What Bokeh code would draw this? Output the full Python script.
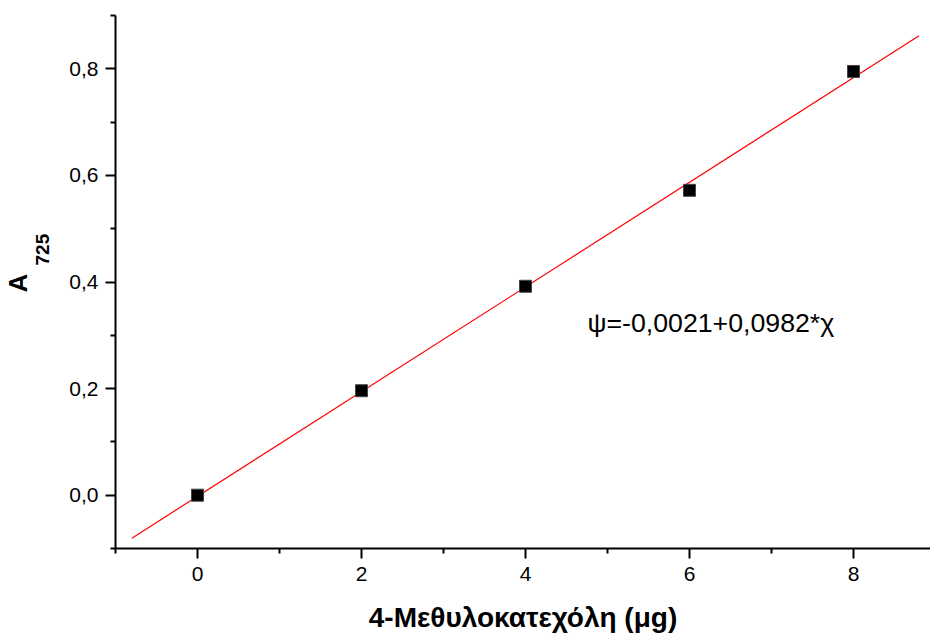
from bokeh.plotting import figure
from bokeh.models import Range1d, FixedTicker, CustomJSTickFormatter, Label, Title
from bokeh.embed import file_html
from bokeh.resources import INLINE

# data
amount_ug = [0, 2, 4, 6, 8]
absorbance = [0.0, 0.196, 0.392, 0.572, 0.795]
fit_intercept = -0.0021
fit_slope = 0.0982
fit_x = [-0.8, 8.8]
fit_y = [fit_intercept + fit_slope * v for v in fit_x]
x_ticks = [0, 2, 4, 6, 8]
x_minor = [-1, 1, 3, 5, 7]
y_ticks = [0.0, 0.2, 0.4, 0.6, 0.8]
y_minor = [-0.1, 0.1, 0.3, 0.5, 0.7, 0.9]
equation = "ψ=-0,0021+0,0982*χ"
x_title = "4-Μεθυλοκατεχόλη (μg)"
y_title_main = "A"
y_title_sub = "725"

FONT = "Liberation Sans"

p = figure(width=930, height=636, output_backend="svg", toolbar_location=None,
           x_range=Range1d(-1, 8.939), y_range=Range1d(-0.1, 0.9),
           min_border_left=115, min_border_right=0, min_border_top=15, min_border_bottom=88)
p.outline_line_color = None
p.xgrid.grid_line_color = None
p.ygrid.grid_line_color = None
p.background_fill_color = "white"
p.border_fill_color = "white"

p.line(fit_x, fit_y, line_color="red", line_width=1.2)
p.scatter(amount_ug, absorbance, marker="square", size=12, fill_color="black",
          line_color="#444444", line_width=1)

for ax in (p.xaxis[0], p.yaxis[0]):
    ax.axis_line_width = 2
    ax.major_tick_line_width = 2
    ax.minor_tick_line_width = 2
    ax.major_tick_in = 0
    ax.major_tick_out = 10
    ax.minor_tick_in = 0
    ax.minor_tick_out = 5
    ax.major_label_text_font = FONT
    ax.major_label_text_font_size = "21px"
    ax.major_label_text_color = "black"

p.xaxis[0].ticker = FixedTicker(ticks=x_ticks, minor_ticks=x_minor)
p.yaxis[0].ticker = FixedTicker(ticks=y_ticks, minor_ticks=y_minor)
p.xaxis[0].formatter = CustomJSTickFormatter(code="return tick.toFixed(0);")
p.yaxis[0].formatter = CustomJSTickFormatter(code="return tick.toFixed(1).replace('.', ',');")
p.xaxis[0].major_label_standoff = 8
p.yaxis[0].major_label_standoff = 7

p.xaxis[0].axis_label = x_title
p.xaxis[0].axis_label_text_font = FONT
p.xaxis[0].axis_label_text_font_style = "bold"
p.xaxis[0].axis_label_text_font_size = "28px"
p.xaxis[0].axis_label_text_color = "black"
p.xaxis[0].axis_label_standoff = 18

# y axis title A_725 as two side titles (subscript nearer the axis)
p.add_layout(Title(text=y_title_sub, align="left", offset=283, standoff=36,
                   text_font=FONT, text_font_style="bold", text_font_size="19px",
                   text_color="black"), "left")
p.add_layout(Title(text=y_title_main, align="left", offset=256, standoff=-35,
                   text_font=FONT, text_font_style="bold", text_font_size="26px",
                   text_color="black"), "left")

p.add_layout(Label(x=4.756, y=0.324, text=equation, text_font=FONT,
                   text_font_size="26.7px", text_align="left", text_baseline="alphabetic",
                   text_color="black"))

open("out.html", "w").write(file_html(p, INLINE))
